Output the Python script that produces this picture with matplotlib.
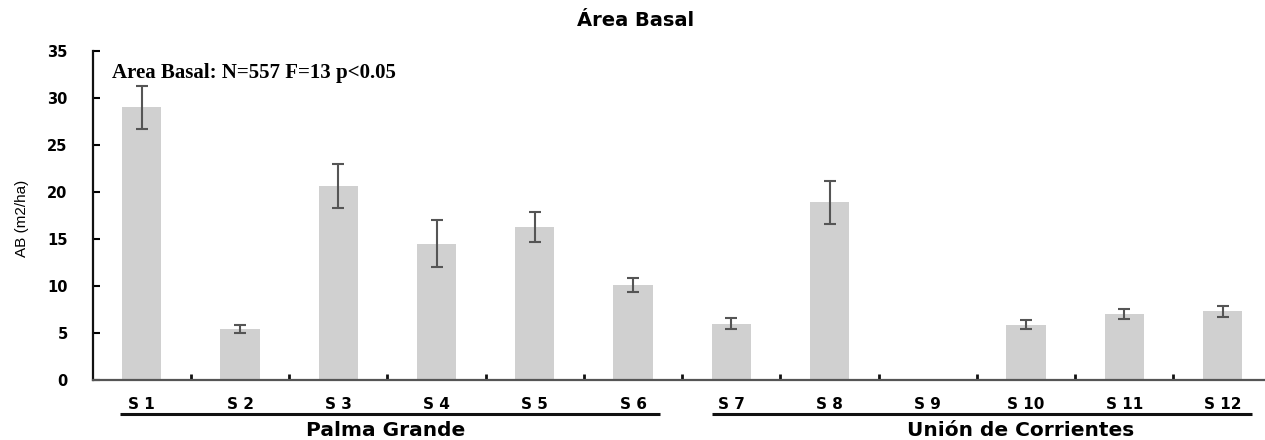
import numpy as np
import matplotlib
matplotlib.use("Agg")
import matplotlib.pyplot as plt
from matplotlib.transforms import blended_transform_factory

categories = ["S 1", "S 2", "S 3", "S 4", "S 5", "S 6",
              "S 7", "S 8", "S 9", "S 10", "S 11", "S 12"]
values = [29.0, 5.4, 20.6, 14.5, 16.3, 10.1, 6.0, 18.9, 0.0, 5.9, 7.05, 7.3]
errors = [2.3, 0.4, 2.35, 2.5, 1.6, 0.75, 0.6, 2.3, 0.0, 0.45, 0.55, 0.55]
groups = ["Palma Grande", "Unión de Corrientes"]
group_spans = [(-0.22, 5.27), (5.80, 11.30)]
group_label_x = [2.48, 8.94]
title = "Área Basal"
annotation = "Area Basal: N=557 F=13 p<0.05"
ylabel = "AB (m2/ha)"

W, H = 1265, 440
fig = plt.figure(figsize=(W / 100, H / 100), dpi=100)
left_px, bottom_px, top_px = 92.7, 380, 51
width_px = 12 * 98.25
ax = fig.add_axes([left_px / W, (H - bottom_px) / H, width_px / W, (bottom_px - top_px) / H])

x = np.arange(len(categories))
v = np.array(values)
e = np.array(errors)
ax.bar(x, v, width=0.4, color="#d0d0d0", zorder=2)
m = v > 0
ax.errorbar(x[m], v[m], yerr=e[m], fmt="none", ecolor="#555555",
            elinewidth=1.5, capsize=4, capthick=1.5, zorder=3)

ax.set_xlim(-0.5, 11.5)
ax.set_ylim(0, 35)
ax.set_yticks(range(0, 36, 5))
ax.set_xticks(x)
ax.set_xticklabels(categories, fontsize=11, fontweight="bold")
ax.set_xticks(np.arange(0.5, 11.5, 1.0), minor=True)
ax.tick_params(axis="x", which="major", length=0, pad=12)
ax.tick_params(axis="x", which="minor", direction="in", length=4, width=2, color="#111111")
ax.tick_params(axis="y", direction="in", length=5, width=1.5, pad=18,
               labelsize=10.5)
for lab in ax.get_yticklabels():
    lab.set_fontweight("bold")

for s in ["top", "right"]:
    ax.spines[s].set_visible(False)
ax.spines["left"].set_linewidth(1.6)
ax.spines["left"].set_color("#111111")
ax.spines["bottom"].set_linewidth(1.6)
ax.spines["bottom"].set_color("#555555")

ax.set_ylabel(ylabel, fontsize=11, family=["Liberation Sans Narrow", "Liberation Sans"])
ax.yaxis.set_label_coords(-0.054, 0.49)

ax.text(0.0164, 0.918, annotation, transform=ax.transAxes, family="Liberation Serif",
        fontweight="bold", fontsize=15, va="baseline", ha="left")

trans = blended_transform_factory(ax.transData, ax.transAxes)
for (x0, x1), name, lx in zip(group_spans, groups, group_label_x):
    ax.plot([x0, x1], [-0.103, -0.103], transform=trans, color="#111111",
            lw=2.2, clip_on=False, solid_capstyle="butt")
    ax.text(lx, -0.153, name, transform=trans, ha="center", va="center",
            fontsize=14.5, fontweight="bold")

fig.text(636 / W, 1 - 21 / H, title, ha="center", va="center", fontsize=14,
         fontweight="bold")

fig.savefig("out.png", dpi=100)
